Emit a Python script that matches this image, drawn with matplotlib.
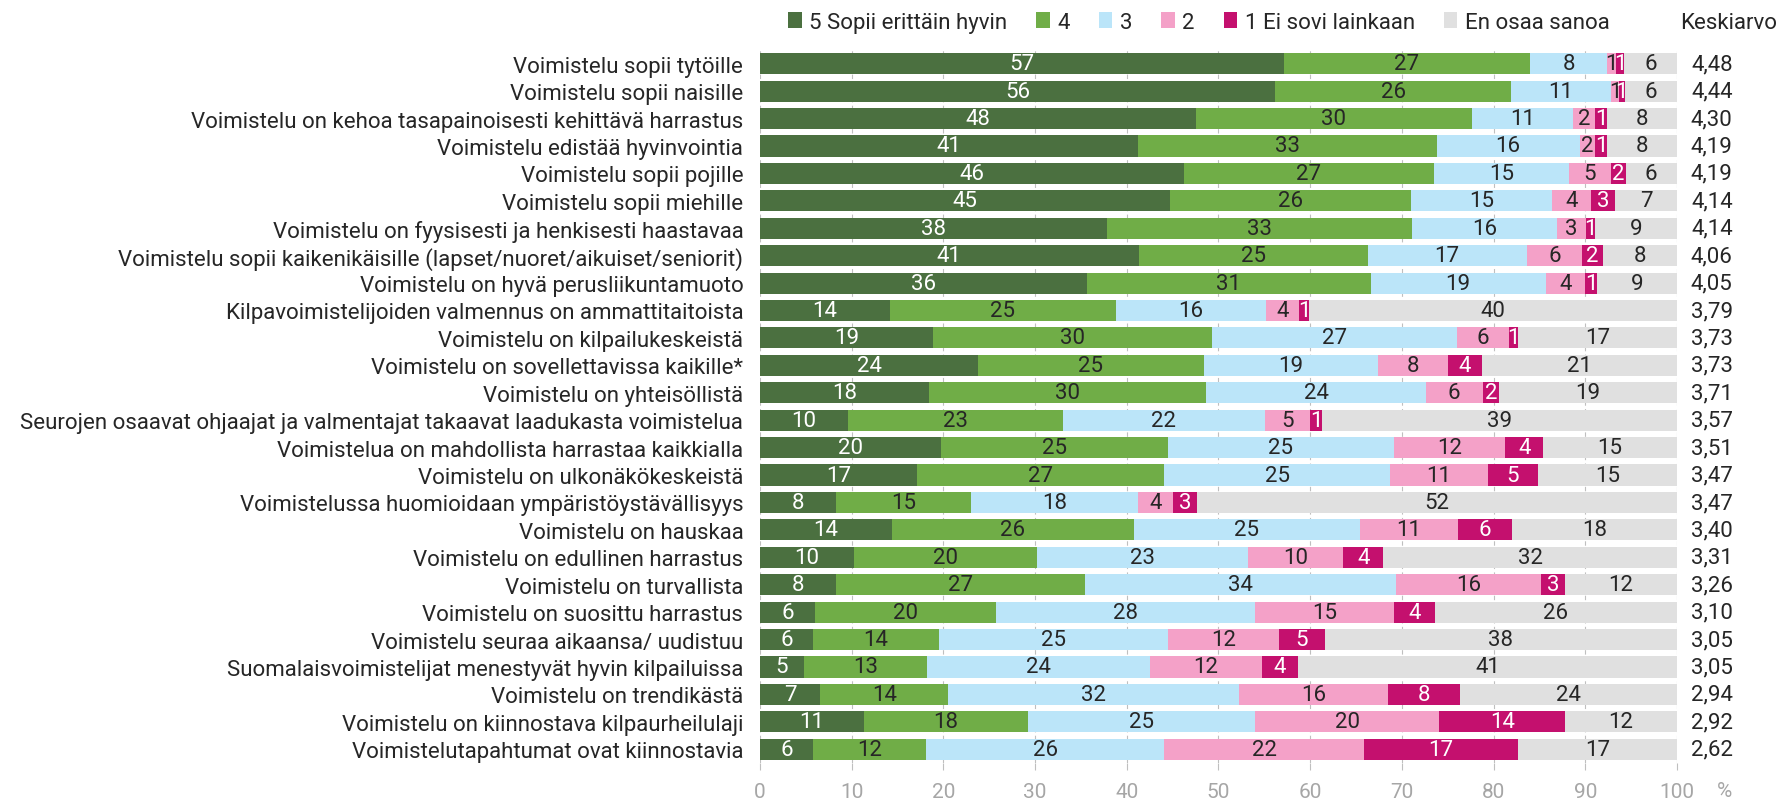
#Stacked horizontal bars: how well each statement fits gymnastics (%)
#plus the mean score (Keskiarvo) on the right
from matplotlib import pyplot as plt
from matplotlib.patches import Patch

plt.rcParams['font.family'] = ['Roboto', 'DejaVu Sans']

#Statements, top to bottom
statements = [
    "Voimistelu sopii tytöille",
    "Voimistelu sopii naisille",
    "Voimistelu on kehoa tasapainoisesti kehittävä harrastus",
    "Voimistelu edistää hyvinvointia",
    "Voimistelu sopii pojille",
    "Voimistelu sopii miehille",
    "Voimistelu on fyysisesti ja henkisesti haastavaa",
    "Voimistelu sopii kaikenikäisille (lapset/nuoret/aikuiset/seniorit)",
    "Voimistelu on hyvä perusliikuntamuoto",
    "Kilpavoimistelijoiden valmennus on ammattitaitoista",
    "Voimistelu on kilpailukeskeistä",
    "Voimistelu on sovellettavissa kaikille*",
    "Voimistelu on yhteisöllistä",
    "Seurojen osaavat ohjaajat ja valmentajat takaavat laadukasta voimistelua",
    "Voimistelua on mahdollista harrastaa kaikkialla",
    "Voimistelu on ulkonäkökeskeistä",
    "Voimistelussa huomioidaan ympäristöystävällisyys",
    "Voimistelu on hauskaa",
    "Voimistelu on edullinen harrastus",
    "Voimistelu on turvallista",
    "Voimistelu on suosittu harrastus",
    "Voimistelu seuraa aikaansa/ uudistuu",
    "Suomalaisvoimistelijat menestyvät hyvin kilpailuissa",
    "Voimistelu on trendikästä",
    "Voimistelu on kiinnostava kilpaurheilulaji",
    "Voimistelutapahtumat ovat kiinnostavia",
]

#Shares in percent
s5 = [57.1, 56.2, 47.6, 41.2, 46.2, 44.7, 37.8, 41.3, 35.7, 14.2, 18.9, 23.8, 18.4,
      9.6, 19.7, 17.1, 8.3, 14.4, 10.3, 8.3, 6.0, 5.8, 4.8, 6.6, 11.3, 5.8]
s4 = [26.9, 25.7, 30.0, 32.6, 27.3, 26.3, 33.3, 25.0, 30.9, 24.6, 30.4, 24.6, 30.3,
      23.4, 24.8, 27.0, 14.7, 26.4, 19.9, 27.1, 19.7, 13.7, 13.4, 13.9, 17.9, 12.3]
s3 = [8.4, 10.9, 11.1, 15.6, 14.7, 15.4, 15.8, 17.3, 19.1, 16.4, 26.7, 19.0, 23.9,
      22.1, 24.6, 24.6, 18.2, 24.6, 23.0, 34.0, 28.3, 25.0, 24.3, 31.7, 24.8, 26.0]
s2 = [1.0, 0.9, 2.4, 1.7, 4.6, 4.2, 3.2, 6.1, 4.3, 3.6, 5.7, 7.6, 6.2,
      4.9, 12.2, 10.7, 3.9, 10.7, 10.4, 15.8, 15.2, 12.1, 12.2, 16.3, 20.1, 21.8]
s1 = [0.8, 0.6, 1.3, 1.3, 1.6, 2.7, 1.0, 2.2, 1.3, 1.1, 1.0, 3.7, 1.8,
      1.3, 4.1, 5.4, 2.6, 5.9, 4.4, 2.6, 4.4, 5.0, 4.0, 7.8, 13.7, 16.8]
eos = [5.8, 5.7, 7.6, 7.6, 5.6, 6.7, 8.9, 8.1, 8.7, 40.1, 17.3, 21.3, 19.4,
       38.7, 14.6, 15.2, 52.3, 18.0, 32.0, 12.2, 26.4, 38.4, 41.3, 23.7, 12.2, 17.3]

#Mean score for each statement
means = ["4,48", "4,44", "4,30", "4,19", "4,19", "4,14", "4,14", "4,06", "4,05",
         "3,79", "3,73", "3,73", "3,71", "3,57", "3,51", "3,47", "3,47", "3,40",
         "3,31", "3,26", "3,10", "3,05", "3,05", "2,94", "2,92", "2,62"]

series = [s5, s4, s3, s2, s1, eos]
names = ["5 Sopii erittäin hyvin", "4", "3", "2", "1 Ei sovi lainkaan", "En osaa sanoa"]
colors = ["#4B7040", "#70AD47", "#BBE5F9", "#F4A1C8", "#C4106E", "#E0E0E0"]
text_colors = ["white", "#262626", "#262626", "#262626", "white", "#262626"]

fig = plt.figure(figsize=(17.91, 8.04), dpi=100)
ax = fig.add_axes([0.4243, 0.0498, 0.5120, 0.8868])

rows = list(range(len(statements)))
left = [0.0] * len(statements)
for vals, col, tcol in zip(series, colors, text_colors):
    ax.barh(rows, vals, left=left, height=0.77, color=col, zorder=2)
    for i, v in enumerate(vals):
        ax.text(left[i] + v / 2, i, str(round(v)), ha='center', va='center',
                color=tcol, fontsize=16, zorder=3)
    left = [a + b for a, b in zip(left, vals)]

#Mean column to the right of the bars
for i, m in enumerate(means):
    ax.text(1.038, i, m, transform=ax.get_yaxis_transform(), ha='center',
            va='center', fontsize=16, color='#262626')

#Axes formatting
ax.set_xlim(0, 100)
ax.set_ylim(len(statements) - 0.5, -0.5)
ax.set_yticks(rows)
ax.set_yticklabels(statements, fontsize=16, color='#262626')
ax.set_xticks(range(0, 101, 10))
ax.tick_params(axis='y', length=0, pad=12)
ax.tick_params(axis='x', length=5, color='#BFBFBF', labelsize=15,
               labelcolor='#A6A6A6', pad=9)
for s in ax.spines.values():
    s.set_visible(False)
ax.grid(axis='x', color='#BFBFBF', linestyle=(0, (4, 3)), linewidth=0.8, zorder=0)
ax.set_axisbelow(True)

#Percent sign next to the axis labels
ax.text(1.052, -0.038, "%", transform=ax.transAxes, ha='center', va='center',
        fontsize=15, color='#A6A6A6')

#Legend on top
handles = [Patch(facecolor=c, label=n) for c, n in zip(colors, names)]
fig.legend(handles=handles, loc='center left', bbox_to_anchor=(0.429, 0.971),
           ncol=6, frameon=False, fontsize=16, handlelength=0.6, handleheight=0.75,
           handletextpad=0.35, columnspacing=1.3, labelcolor='#262626')
fig.text(0.965, 0.971, "Keskiarvo", ha='center', va='center', fontsize=16,
         color='#262626')

plt.savefig('out.png', dpi=100)
